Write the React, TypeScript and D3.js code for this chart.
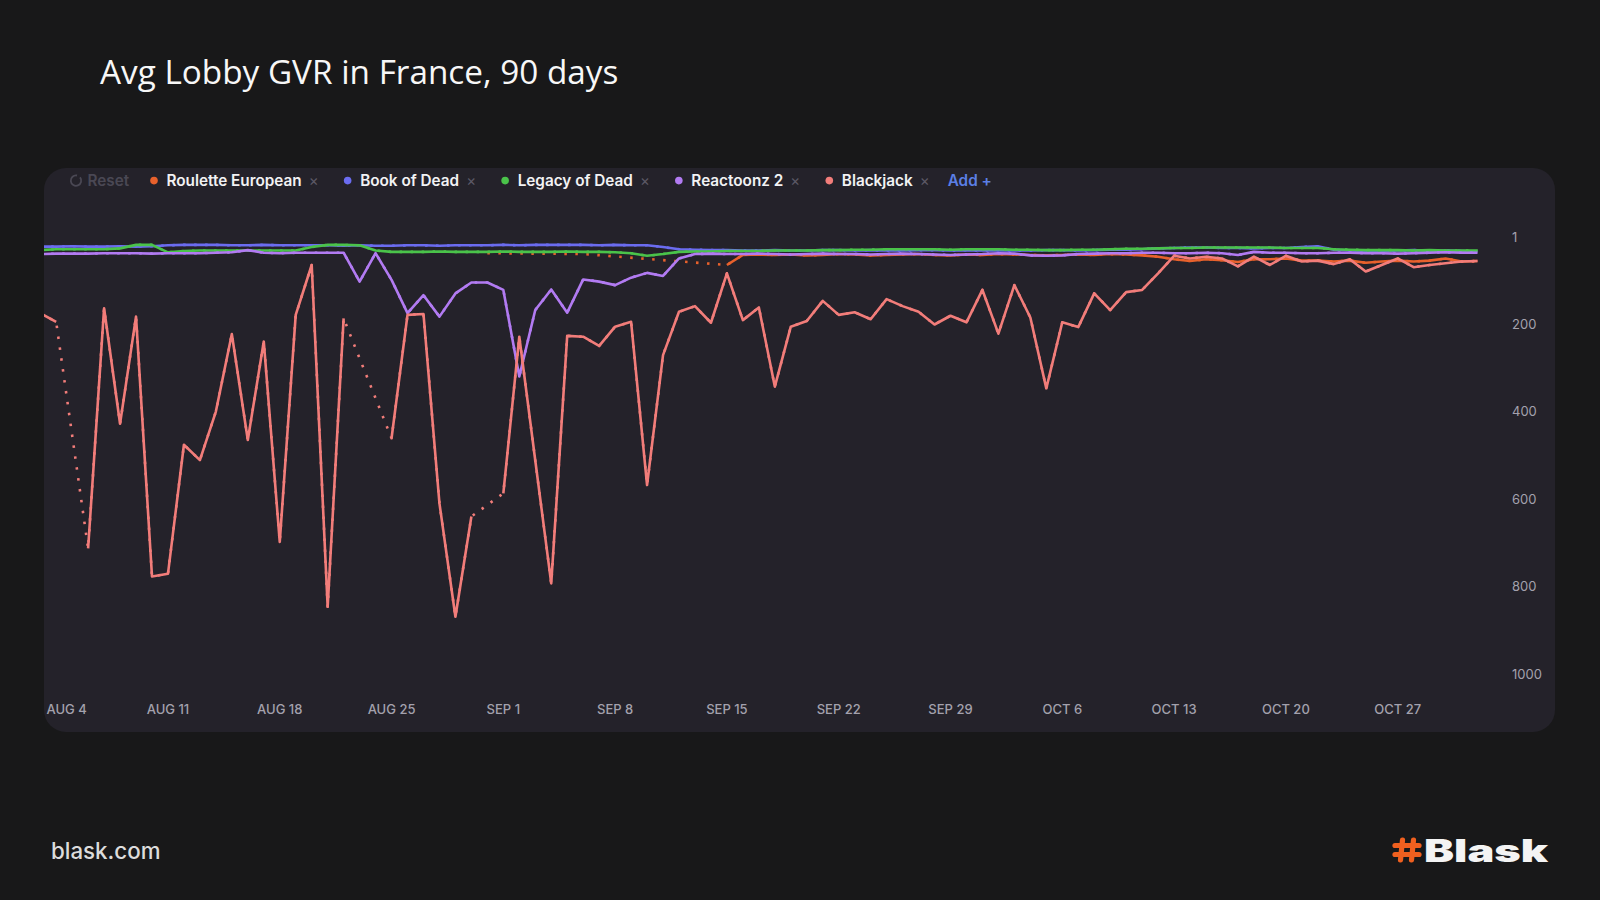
import * as d3 from "d3";
import { useEffect, useRef } from "react";

// ---- data ----------------------------------------------------------------
const title = "Avg Lobby GVR in France, 90 days";
const firstDay = "2024-08-03";
const lastDay = "2024-11-01";

const seriesNames = ["Roulette European", "Book of Dead", "Legacy of Dead", "Reactoonz 2", "Blackjack"];
const seriesColors = ["#e8612c", "#6b6cf0", "#4ac34a", "#b27bf2", "#f27d7a"];

// lobby rank per day, Aug 3 -> Nov 1 (null = no data, bridged with a dotted line)
const rouletteEuropean = [
  null, null, null, null, null, null, null, null, null, null,
  null, null, null, null, null, null, null, null, null, null,
  null, null, null, null, null, null, null, null, 38, null,
  null, null, null, null, 40, null, null, null, null, null,
  null, null, null, 65, 42, 41, 42, 41, 43, 42,
  40, 41, 43, 42, 41, 40, 42, 43, 41, 42,
  40, 41, 42, 43, 42, 41, 42, 40, 41, 43,
  46, 52, 56, 52, 54, 58, 52, 52, 50, 55,
  55, 57, 55, 60, 57, 55, 57, 55, 50, 57,
  56,
];

const bookOfDead = [
  23, 23, 22, 23, 23, 22, 23, 22, 20, 19,
  19, 19, 20, 20, 19, 20, 20, 20, 20, 21,
  20, 21, 21, 20, 20, 21, 20, 20, 20, 19,
  20, 19, 19, 19, 19, 20, 19, 20, 20, 24,
  29, 30, 31, 31, 32, 32, 31, 32, 32, 31,
  31, 32, 31, 32, 32, 31, 31, 32, 31, 32,
  31, 32, 32, 31, 31, 32, 31, 30, 30, 29,
  27, 26, 25, 25, 26, 26, 27, 26, 26, 24,
  22, 30, 32, 33, 33, 32, 31, 33, 32, 33,
  34,
];

const legacyOfDead = [
  31, 29, 29, 29, 29, 27, 19, 19, 36, 33,
  32, 32, 32, 32, 32, 32, 32, 24, 19, 19,
  20, 32, 35, 35, 35, 34, 35, 35, 35, 34,
  35, 35, 35, 34, 35, 35, 36, 38, 44, 40,
  35, 34, 34, 33, 33, 33, 32, 32, 32, 31,
  31, 30, 30, 29, 29, 29, 29, 30, 29, 29,
  29, 30, 30, 31, 31, 30, 30, 29, 28, 28,
  27, 26, 26, 25, 25, 25, 25, 25, 26, 26,
  26, 29, 30, 31, 31, 31, 32, 31, 32, 32,
  32,
];

const reactoonz2 = [
  40, 39, 39, 39, 38, 38, 38, 39, 38, 38,
  38, 37, 36, 31, 37, 38, 37, 37, 37, 37,
  103, 38, 99, 175, 134, 183, 130, 105, 105, 122,
  320, 168, 121, 174, 98, 103, 111, 94, 83, 90,
  50, 40, 39, 40, 40, 39, 40, 41, 40, 39,
  40, 40, 41, 40, 39, 40, 41, 42, 41, 40,
  38, 39, 43, 44, 43, 40, 39, 38, 38, 37,
  37, 38, 38, 37, 38, 42, 35, 37, 37, 38,
  38, 37, 37, 38, 38, 39, 38, 37, 36, 37,
  37,
];

const blackjack = [
  175, 195, null, 713, 164, 428, 183, 777, 771, 476,
  511, 400, 223, 465, 240, 698, 179, 65, 846, 187,
  null, null, 461, 179, 177, 610, 869, 640, null, 587,
  229, 512, 793, 227, 229, 250, 206, 195, 568, 271,
  172, 159, 197, 84, 191, 162, 343, 206, 193, 147,
  179, 173, 189, 143, 159, 172, 201, 181, 196, 122,
  222, 111, 185, 347, 196, 207, 130, 168, 127, 122,
  84, 44, 50, 46, 50, 68, 46, 65, 44, 57,
  55, 63, 52, 80, 65, 50, 70, 65, 61, 57,
  56,
];

const yTickValues = [1, 200, 400, 600, 800, 1000];
const footerText = "blask.com";
const brandText = "Blask";
const resetLabel = "Reset";
const addLabel = "Add +";

// ---- layout --------------------------------------------------------------
const W = 1600;
const H = 900;
const panel = { x: 44, y: 168, w: 1511, h: 564, r: 22 };
const font = "Inter, 'Noto Sans', sans-serif";

export default function App() {
  const legendRef = useRef<SVGGElement | null>(null);

  const t0 = new Date(firstDay + "T00:00:00Z");
  const t1 = new Date(lastDay + "T00:00:00Z");
  const days = d3.utcDay.range(t0, d3.utcDay.offset(t1, 1));

  const x = d3.scaleUtc([t0, t1], [40.2, 1477.5]);
  const y = d3.scaleLinear([1, 1000], [237, 674]);

  const allValues = [rouletteEuropean, bookOfDead, legacyOfDead, reactoonz2, blackjack];
  const series = seriesNames.map((name, k) => ({ name, color: seriesColors[k], values: allValues[k] }));

  const solid = d3
    .line<number | null>()
    .defined((v) => v != null)
    .x((_, i) => x(days[i]))
    .y((v) => y(v as number));

  const bridge = d3
    .line<[number, number]>()
    .x((p) => x(days[p[0]]))
    .y((p) => y(p[1]));

  const xTicks = x.ticks(d3.utcSunday.every(1)!);
  const fmt = d3.utcFormat("%b %-d");

  // legend: laid out from measured text widths
  useEffect(() => {
    if (!legendRef.current) return;
    const g = d3.select(legendRef.current);
    g.selectAll("*").remove();
    const cy = 180.6;
    const size = 15.3;

    // reset icon + label
    const icon = d3.arc()({ innerRadius: 5.2, outerRadius: 5.2, startAngle: 0.9, endAngle: 2 * Math.PI + 0.2 });
    g.append("path")
      .attr("d", icon)
      .attr("transform", `translate(76,${cy})`)
      .attr("fill", "none")
      .attr("stroke", "#4a4854")
      .attr("stroke-width", 1.8);
    g.append("text")
      .attr("x", 87.5)
      .attr("y", cy)
      .attr("dy", "0.35em")
      .attr("fill", "#4a4854")
      .attr("font-size", size)
      .attr("font-weight", 600)
      .text(resetLabel);

    let cx = 154;
    series.forEach((s) => {
      g.append("circle").attr("cx", cx).attr("cy", cy).attr("r", 3.8).attr("fill", s.color);
      const label = g
        .append("text")
        .attr("x", cx + 12.5)
        .attr("y", cy)
        .attr("dy", "0.35em")
        .attr("fill", "#f2f2f4")
        .attr("font-size", size)
        .attr("font-weight", 600)
        .text(s.name);
      const end = cx + 12.5 + (label.node() as SVGTextElement).getComputedTextLength();
      const xc = end + 12;
      g.append("text")
        .attr("x", xc)
        .attr("y", cy)
        .attr("dy", "0.33em")
        .attr("text-anchor", "middle")
        .attr("fill", "#5c5966")
        .attr("font-size", 15)
        .text("×");
      cx = xc + 34;
    });
    g.append("text")
      .attr("x", cx - 11)
      .attr("y", cy)
      .attr("dy", "0.35em")
      .attr("fill", "#5b7fe6")
      .attr("font-size", size)
      .attr("font-weight", 600)
      .text(addLabel);
  }, []);

  return (
    <svg
      width={W}
      height={H}
      viewBox={`0 0 ${W} ${H}`}
      style={{ position: "absolute", left: 0, top: 0, display: "block" }}
      fontFamily={font}
    >
      <rect width={W} height={H} fill="#181819" />

      <text x={100} y={84} fill="#f7f7f7" fontSize={33.3} fontFamily="'Open Sans', sans-serif">
        {title}
      </text>

      <defs>
        <clipPath id="panel-clip">
          <rect x={panel.x} y={panel.y} width={panel.w} height={panel.h} rx={panel.r} />
        </clipPath>
      </defs>

      <rect x={panel.x} y={panel.y} width={panel.w} height={panel.h} rx={panel.r} fill="#24222a" />

      <g ref={legendRef} />

      {/* y axis labels (rank, 1 at top) */}
      <g fill="#a3a1ad" fontSize={13}>
        {yTickValues.map((v) => (
          <text key={v} x={1512} y={y(v)} dy="0.35em">
            {v}
          </text>
        ))}
      </g>

      {/* x axis labels, weekly */}
      <g fill="#a3a1ad" fontSize={13} fontWeight={500}>
        {xTicks.map((d, i) => {
          const px = x(d);
          const left = i === 0 && px - 22 < panel.x + 2;
          return (
            <text
              key={+d}
              x={left ? panel.x + 2.5 : px}
              y={709.5}
              dy="0.35em"
              textAnchor={left ? "start" : "middle"}
            >
              {fmt(d).toUpperCase()}
            </text>
          );
        })}
      </g>

      {/* lines */}
      <g clipPath="url(#panel-clip)" fill="none" strokeWidth={2.6} strokeLinejoin="round">
        {series.map((s) => {
          const pts = s.values
            .map((v, i) => [i, v] as [number, number | null])
            .filter((p) => p[1] != null) as [number, number][];
          return (
            <g key={s.name} stroke={s.color}>
              <path d={bridge(pts) ?? undefined} strokeDasharray="2.5 8.5" />
              <path d={solid(s.values) ?? undefined} />
            </g>
          );
        })}
      </g>

      {/* footer */}
      <text x={51} y={859} fill="#dcdcdc" fontSize={22.3} fontWeight={500}>
        {footerText}
      </text>
      <g stroke="#f0601f" strokeWidth={5.2} strokeLinecap="round">
        <line x1={1402.5} y1={840} x2={1400.5} y2={860} />
        <line x1={1413.5} y1={840} x2={1411.5} y2={860} />
        <line x1={1395} y1={845.5} x2={1419} y2={845.5} />
        <line x1={1395} y1={854.5} x2={1419} y2={854.5} />
      </g>
      <text
        x={1424}
        y={861.5}
        fill="#f4f4f4"
        fontSize={31}
        fontWeight={900}
        textLength={124}
        lengthAdjust="spacingAndGlyphs"
      >
        {brandText}
      </text>
    </svg>
  );
}
